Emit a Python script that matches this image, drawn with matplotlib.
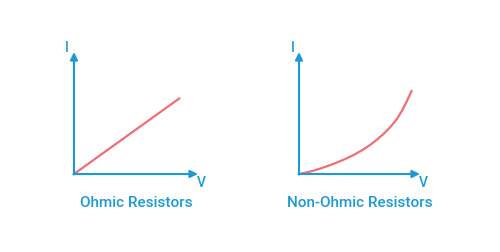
import matplotlib
matplotlib.use("Agg")
import matplotlib.pyplot as plt

# Data
ohmic_v = [0.0, 8.5]
ohmic_i = [0.0, 6.2]
nonohmic_v = [0.0, 0.7, 1.32, 2.1, 2.98, 3.8, 4.63, 5.3, 5.87, 6.42, 6.97, 7.52, 8.07, 8.49, 8.90, 9.31]
nonohmic_i = [0.0, 0.14, 0.31, 0.56, 0.88, 1.22, 1.62, 2.00, 2.38, 2.80, 3.27, 3.82, 4.48, 5.15, 5.95, 6.82]
titles = ["Ohmic Resistors", "Non-Ohmic Resistors"]
x_label = "V"
y_label = "I"

BLUE = "#1b9bd6"
RED = "#f26d75"
W, H = 500, 252

plt.rcParams['font.family'] = ['Roboto', 'DejaVu Sans']
fig = plt.figure(figsize=(5.0, 2.52), dpi=100)
fig.patch.set_facecolor("white")

panels = [
    (74, 174, 124, 122, ohmic_v, ohmic_i, titles[0], 136),
    (299, 174, 121, 122, nonohmic_v, nonohmic_i, titles[1], 360),
]

for (x0, y0, w, h, vs, is_, title, tx) in panels:
    ax = fig.add_axes([x0 / W, (H - y0) / H, w / W, h / H])
    ax.set_xlim(0, 10)
    ax.set_ylim(0, 10)
    ax.axis("off")
    ax.plot(vs, is_, color=RED, lw=1.6, solid_capstyle="round",
            solid_joinstyle="round", zorder=2)
    arrow = dict(arrowstyle="-|>,head_length=0.45,head_width=0.22", color=BLUE, lw=1.5,
                 shrinkA=0, shrinkB=0)
    ax.annotate("", xy=(10, 0), xytext=(-0.05, 0), arrowprops=arrow,
                annotation_clip=False, zorder=3)
    ax.annotate("", xy=(0, 10), xytext=(0, -0.05), arrowprops=arrow,
                annotation_clip=False, zorder=3)
    ax.text(-0.55, 10.35, y_label, color=BLUE, fontsize=10, fontweight="medium",
            ha="center", va="center")
    ax.text(10.25, -0.75, x_label, color=BLUE, fontsize=10, fontweight="medium",
            ha="center", va="center")
    fig.text(tx / W, (H - 203) / H, title, color=BLUE, fontsize=11,
             fontweight="medium", ha="center", va="center")

fig.savefig("out.png", dpi=100, facecolor="white")
